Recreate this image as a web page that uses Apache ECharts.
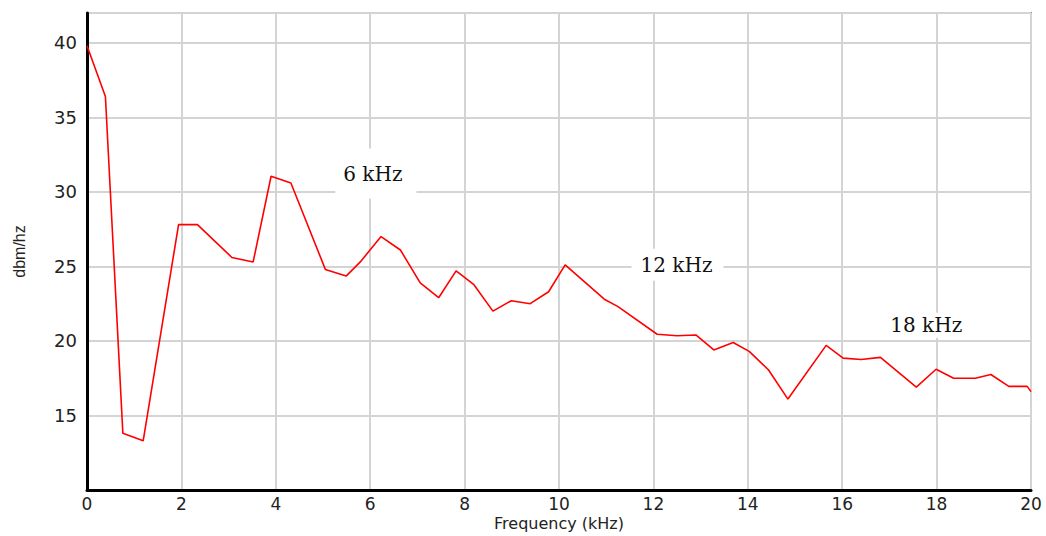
<!DOCTYPE html>
<html>
<head>
<meta charset="utf-8">
<script src="https://cdn.jsdelivr.net/npm/echarts@6/dist/echarts.min.js"></script>
<style>
html,body{margin:0;padding:0;background:#fff;}
#chart{width:1046px;height:536px;}
</style>
</head>
<body>
<div id="chart"></div>
<script>
// Frequency (kHz) of each vertex of the spectrum curve
const freq = [0,0.39,0.76,1.19,1.94,2.34,3.07,3.52,3.9,4.32,5.05,5.49,5.79,6.23,6.64,7.06,7.45,7.82,8.19,8.6,8.99,9.39,9.78,10.13,10.96,11.25,12.08,12.5,12.9,13.28,13.69,14.03,14.44,14.85,15.66,16.02,16.4,16.81,17.57,17.99,18.36,18.82,19.15,19.53,19.92,20];
// Level (dbm/hz)
const level = [39.8,36.4,13.8,13.3,27.8,27.8,25.6,25.3,31.05,30.6,24.8,24.35,25.3,27.0,26.1,23.9,22.9,24.7,23.8,22.0,22.7,22.5,23.3,25.1,22.8,22.3,20.45,20.35,20.4,19.4,19.9,19.3,18.05,16.1,19.7,18.85,18.75,18.9,16.9,18.1,17.5,17.5,17.75,16.95,16.95,16.6];
// Annotations (text centre positions)
const annoText = ['6 kHz','12 kHz','18 kHz'];
const annoFreq = [6.12, 12.51, 17.78];
const annoLevel = [31.23, 25.11, 21.05];
const annoPadding = [[3,14,27,8],[3,11,9,9],[3,8,2,8]];
// Axis settings
const xMin = 0, xMax = 20, xStep = 2;
const yMin = 10, yMax = 42, yStep = 5;

const chart = echarts.init(document.getElementById('chart'), null, {renderer:'svg'});
const option = {
  backgroundColor:'#ffffff',
  animation:false,
  grid:{left:87, right:15, top:13, bottom:46, outerBoundsMode:'none', containLabel:false,
        show:true, borderColor:'#333', borderWidth:1.5, backgroundColor:'#fff'},
  xAxis:{
    type:'value', min:xMin, max:xMax, interval:xStep,
    name:'Frequency (kHz)', nameLocation:'middle', nameGap:25, nameMoveOverlap:false,
    nameTextStyle:{fontFamily:'DejaVu Sans', fontSize:16, color:'#222'},
    axisLine:{onZero:false, lineStyle:{color:'#000', width:3}},
    axisTick:{show:false},
    axisLabel:{fontFamily:'DejaVu Sans', fontSize:17, color:'#222', margin:5},
    splitLine:{show:true, lineStyle:{color:'#d4d4d4', width:2}}
  },
  yAxis:{
    type:'value', min:yMin, max:yMax, interval:yStep,
    name:'dbm/hz', nameLocation:'middle', nameGap:60, nameRotate:90, nameMoveOverlap:false,
    nameTextStyle:{fontFamily:'Liberation Sans', fontSize:16, color:'#222'},
    axisLine:{onZero:false, lineStyle:{color:'#000', width:3}},
    axisTick:{show:false},
    axisLabel:{fontFamily:'DejaVu Sans', fontSize:18, color:'#222', margin:10, showMinLabel:false, showMaxLabel:false},
    splitLine:{show:true, lineStyle:{color:'#d4d4d4', width:2}}
  },
  series:[{
    type:'line',
    data:freq.map((f,i)=>[f, level[i]]),
    symbol:'none',
    lineStyle:{color:'#ff0000', width:1.6},
    markPoint:{
      symbol:'circle', symbolSize:1,
      itemStyle:{color:'rgba(0,0,0,0)'},
      label:{show:true},
      data:annoText.map((t,i)=>({
        coord:[annoFreq[i], annoLevel[i]],
        value:t,
        label:{show:true, position:'inside', formatter:t, fontFamily:'DejaVu Serif', fontSize:20, color:'#111',
               backgroundColor:'#fff', padding:annoPadding[i]}
      }))
    }
  }]
};
chart.setOption(option);
</script>
</body>
</html>
